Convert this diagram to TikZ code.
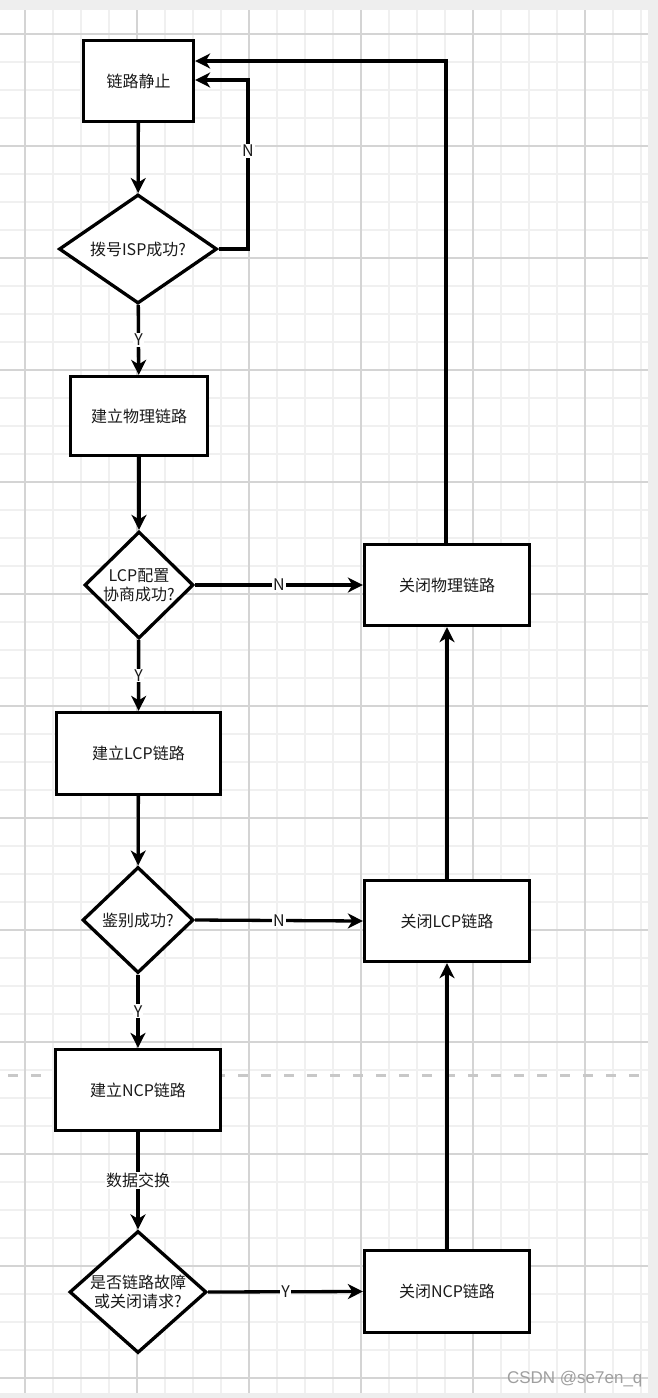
\documentclass[tikz,border=0pt]{standalone}
\usepackage{fontspec}
\newfontfamily\cjk{Noto Sans CJK SC}
\newfontfamily\wmfont{Liberation Sans}
\usetikzlibrary{arrows.meta,shapes.geometric}
\definecolor{minorg}{HTML}{F0F0F0}
\definecolor{majorg}{HTML}{D4D4D4}
\definecolor{bandg}{HTML}{EEEEEE}
\definecolor{txt}{HTML}{1A1A1A}
\definecolor{dashg}{HTML}{C8C8C8}
\begin{document}
\begin{tikzpicture}[x=1pt,y=-1pt,
  cjktext/.style={font=\cjk\fontsize{16}{19}\selectfont, text=txt},
  box/.style={draw=black, line width=3.3pt, fill=white, inner sep=0pt, align=center, cjktext},
  dia/.style={diamond, draw=black, line width=3.3pt, fill=white, inner sep=0pt},
  arr/.style={draw=black, line width=3.3pt, -{Stealth[length=15pt,width=15pt,inset=4.5pt]}},
  lab/.style={fill=white, inner sep=1pt, cjktext},
  minorline/.style={draw=minorg, line width=2pt},
  majorline/.style={draw=majorg, line width=1.5pt}]
\useasboundingbox (0,0) rectangle (658,1398);
% background and grid
\fill[bandg] (0,0) rectangle (658,1398);
\fill[white] (0,10) rectangle (648,1393);
\foreach \x in {25,53,...,641} \draw[minorline] (\x,10) -- (\x,1393);
\foreach \y in {34,62,...,1390} \draw[minorline] (0,\y) -- (648,\y);
\foreach \x in {25,137,...,641} \draw[majorline] (\x,10) -- (\x,1393);
\foreach \y in {34,146,...,1390} \draw[majorline] (0,\y) -- (648,\y);
\draw[dashg, line width=3pt, dash pattern=on 10pt off 13pt] (8,1075) -- (648,1075);
% nodes
\node[box, minimum width=110pt, minimum height=81pt] (b1) at (138.5,81) {链路静止};
\node[dia, minimum width=158pt, minimum height=109pt,
  label={[cjktext]center:拨号ISP成功?}] (d1) at (138,249) {};
\node[box, minimum width=137pt, minimum height=79pt] (b2) at (139,416) {建立物理链路};
\node[dia, minimum width=109pt, minimum height=107pt,
  label={[cjktext,align=center]center:{LCP配置\\协商成功?}}] (d2) at (139,585) {};
\node[box, minimum width=164pt, minimum height=82pt] (b3) at (138.5,753.5) {建立LCP链路};
\node[dia, minimum width=111pt, minimum height=106pt,
  label={[cjktext]center:鉴别成功?}] (d3) at (138,920) {};
\node[box, minimum width=165pt, minimum height=81pt] (b4) at (138,1090) {建立NCP链路};
\node[dia, minimum width=137pt, minimum height=122pt,
  label={[cjktext,align=center]center:{是否链路故障\\或关闭请求?}}] (d4) at (138,1292) {};
\node[box, minimum width=165pt, minimum height=81pt] (c1) at (447,585) {关闭物理链路};
\node[box, minimum width=165pt, minimum height=81pt] (c2) at (447,921) {关闭LCP链路};
\node[box, minimum width=165pt, minimum height=82pt] (c3) at (447,1291.5) {关闭NCP链路};
\coordinate (n1) at (248,80);
\coordinate (t1) at (446,61);
% connectors
\draw[arr] (b1) -- (d1);
\draw[arr] (d1) -- node[lab]{Y} (b2);
\draw[arr] (b2) -- (d2);
\draw[arr] (d2) -- node[lab]{Y} (b3);
\draw[arr] (b3) -- (d3);
\draw[arr] (d3) -- node[lab]{Y} (b4);
\draw[arr] (b4) -- node[lab]{数据交换} (d4);
\draw[arr] (d1.east) -| node[lab,pos=0.79]{N} (n1) -- (n1 -| b1.east);
\draw[arr] (d2.east) -- node[lab]{N} (c1.west);
\draw[arr] (d3.east) -- node[lab]{N} (c2.west);
\draw[arr] (d4.east) -- node[lab]{Y} (c3.west);
\draw[arr] (c3) -- (c2);
\draw[arr] (c2) -- (c1);
\draw[arr] (c1.north -| t1) -- (t1) -- (t1 -| b1.east);
% watermark
\node[anchor=east, font=\wmfont\fontsize{17}{20}\selectfont, text=gray!75] (wm) at (646,1379) {CSDN @se7en\_q};
\end{tikzpicture}
\end{document}
